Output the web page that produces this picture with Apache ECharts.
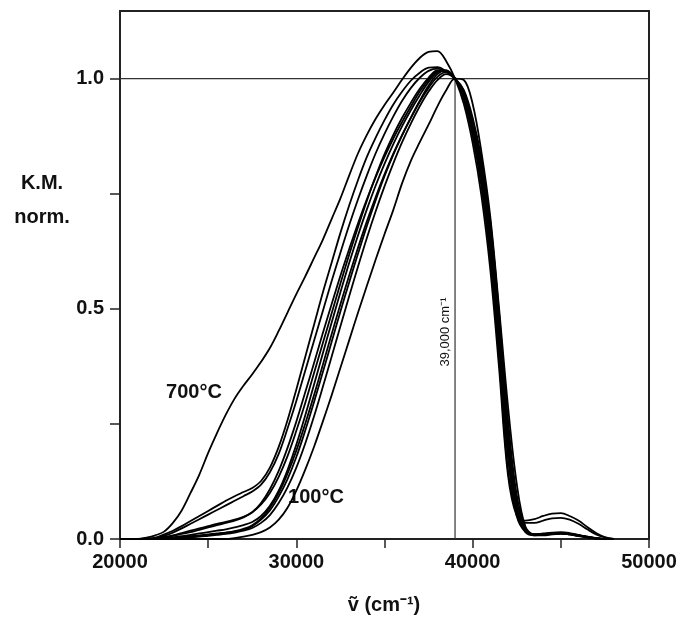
<!DOCTYPE html>
<html>
<head>
<meta charset="utf-8">
<script src="https://cdn.jsdelivr.net/npm/echarts@6/dist/echarts.min.js"></script>
<style>
html,body{margin:0;padding:0;background:#fff;}
#chart{width:683px;height:620px;}
</style>
</head>
<body>
<div id="chart"></div>
<script>
// wavenumber grid (cm^-1)
var wavenumbers = [20000,20500,21000,21500,22000,22500,23000,23500,24000,24500,25000,25500,26000,26500,27000,27500,28000,28500,29000,29500,30000,30500,31000,31500,32000,32500,33000,33500,34000,34500,35000,35500,36000,36500,37000,37500,38000,38500,39000,39500,40000,40500,41000,41500,42000,42500,43000,43500,44000,44500,45000,45500,46000,46500,47000,47500,48000];

var spec700 = [0,0,0,0.003,0.008,0.016,0.035,0.062,0.1,0.14,0.187,0.23,0.27,0.305,0.333,0.358,0.385,0.415,0.452,0.492,0.532,0.57,0.61,0.65,0.695,0.74,0.79,0.838,0.878,0.913,0.943,0.97,0.998,1.024,1.045,1.058,1.06,1.038,1.0,0.945,0.86,0.745,0.585,0.37,0.14,0.05,0.04,0.043,0.05,0.055,0.056,0.05,0.04,0.026,0.013,0.004,0];
var specB1 = [0,0,0,0.001,0.003,0.01,0.018,0.028,0.039,0.05,0.061,0.072,0.083,0.093,0.102,0.111,0.126,0.155,0.2,0.258,0.325,0.395,0.465,0.535,0.6,0.665,0.725,0.78,0.83,0.872,0.91,0.944,0.972,0.996,1.013,1.024,1.025,1.016,1.0,0.955,0.875,0.765,0.61,0.39,0.15,0.055,0.035,0.035,0.04,0.045,0.046,0.042,0.033,0.021,0.01,0.003,0];
var specB2 = [0,0,0,0,0.002,0.007,0.014,0.023,0.033,0.043,0.053,0.063,0.073,0.083,0.093,0.103,0.118,0.145,0.185,0.24,0.3,0.365,0.43,0.495,0.56,0.622,0.682,0.738,0.79,0.838,0.88,0.918,0.952,0.98,1.002,1.017,1.022,1.015,1.0,0.96,0.885,0.78,0.63,0.42,0.18,0.05,0.015,0.01,0.012,0.014,0.015,0.013,0.009,0.005,0.002,0,0];
var specB3 = [0,0,0,0,0.001,0.004,0.008,0.013,0.018,0.023,0.028,0.033,0.037,0.042,0.048,0.058,0.075,0.1,0.135,0.18,0.235,0.295,0.36,0.425,0.49,0.555,0.618,0.678,0.735,0.788,0.836,0.878,0.915,0.948,0.978,1.002,1.018,1.016,1.0,0.965,0.895,0.795,0.65,0.44,0.2,0.06,0.018,0.009,0.01,0.012,0.013,0.011,0.008,0.004,0.002,0,0];
var specB4 = [0,0,0,0,0.001,0.003,0.007,0.011,0.015,0.02,0.025,0.03,0.035,0.04,0.047,0.058,0.078,0.108,0.148,0.198,0.255,0.318,0.382,0.447,0.51,0.572,0.63,0.686,0.738,0.786,0.83,0.87,0.906,0.94,0.972,0.998,1.016,1.017,1.0,0.962,0.89,0.79,0.645,0.43,0.19,0.055,0.015,0.008,0.009,0.011,0.012,0.01,0.007,0.004,0.001,0,0];
var specB5 = [0,0,0,0,0,0.001,0.002,0.004,0.006,0.008,0.01,0.012,0.014,0.017,0.022,0.03,0.045,0.068,0.1,0.142,0.192,0.25,0.312,0.378,0.445,0.51,0.573,0.633,0.69,0.743,0.792,0.837,0.878,0.916,0.952,0.985,1.01,1.018,1.0,0.968,0.9,0.805,0.665,0.46,0.22,0.07,0.02,0.01,0.01,0.012,0.013,0.011,0.008,0.005,0.002,0,0];
var specB6 = [0,0,0,0,0,0.001,0.002,0.003,0.005,0.007,0.009,0.011,0.013,0.016,0.02,0.028,0.042,0.062,0.092,0.13,0.178,0.235,0.297,0.362,0.428,0.494,0.558,0.62,0.68,0.736,0.788,0.835,0.877,0.915,0.95,0.98,1.004,1.014,1.0,0.972,0.91,0.82,0.685,0.48,0.245,0.085,0.022,0.01,0.01,0.012,0.013,0.011,0.008,0.004,0.001,0,0];
var specB7 = [0,0,0,0,0,0.001,0.002,0.003,0.004,0.005,0.007,0.009,0.011,0.014,0.018,0.024,0.035,0.052,0.078,0.112,0.155,0.207,0.266,0.33,0.396,0.462,0.528,0.592,0.654,0.712,0.766,0.816,0.862,0.903,0.94,0.972,0.997,1.01,1.0,0.975,0.915,0.825,0.69,0.49,0.26,0.095,0.025,0.01,0.01,0.011,0.012,0.01,0.007,0.004,0.001,0,0];
var specB8 = [0,0,0,0,0,0.002,0.004,0.006,0.009,0.012,0.015,0.018,0.021,0.025,0.03,0.037,0.05,0.072,0.105,0.15,0.205,0.268,0.335,0.403,0.47,0.536,0.6,0.66,0.716,0.768,0.815,0.858,0.897,0.932,0.964,0.993,1.014,1.018,1.0,0.963,0.895,0.8,0.66,0.455,0.21,0.065,0.018,0.009,0.01,0.012,0.013,0.011,0.008,0.004,0.002,0,0];
var spec100 = [0,0,0,0,0,0,0,0,0,0,0,0,0,0.002,0.005,0.009,0.015,0.025,0.042,0.068,0.105,0.15,0.2,0.255,0.312,0.372,0.432,0.492,0.55,0.607,0.662,0.715,0.773,0.822,0.862,0.9,0.94,0.975,1.0,0.997,0.945,0.84,0.7,0.5,0.29,0.12,0.025,0.008,0.008,0.01,0.012,0.01,0.006,0.003,0.001,0,0];

var spectra = [spec700, specB1, specB2, specB3, specB4, specB5, specB6, specB7, specB8, spec100];

var xTicks = [20000,25000,30000,35000,40000,45000,50000];
var xLabels = [20000,30000,40000,50000];
var yTicks = [0,0.25,0.5,0.75,1.0];
var yLabels = [0,0.5,1.0];
var normLevel = 1.0;
var normWavenumber = 39000;
var xMin = 20000, xMax = 50000, yMin = 0, yMax = 1.147;

var FONT = '"Liberation Sans", Arial, sans-serif';

var series = spectra.map(function (s, k) {
  return {
    type: 'line',
    name: 's' + k,
    data: wavenumbers.map(function (w, i) { return [w, s[i]]; }),
    showSymbol: false,
    smooth: 0.35,
    silent: true,
    lineStyle: { color: '#000', width: 1.8 },
    z: 3
  };
});
series.push({
  type: 'line', data: [[xMin, normLevel], [xMax, normLevel]], showSymbol: false, silent: true,
  lineStyle: { color: '#333', width: 1.2 }, z: 2
});
series.push({
  type: 'line', data: [[normWavenumber, yMin], [normWavenumber, normLevel]], showSymbol: false, silent: true,
  lineStyle: { color: '#333', width: 1.2 }, z: 2
});

var chart = echarts.init(document.getElementById('chart'), null, { renderer: 'canvas' });
chart.setOption({
  animation: false,
  backgroundColor: '#fff',
  grid: { left: 120, right: 34, top: 11, bottom: 81, containLabel: false },
  xAxis: [{
    type: 'value', min: xMin, max: xMax,
    axisLine: { show: true, lineStyle: { color: '#222', width: 2 } },
    axisTick: { show: true, inside: false, length: 9, customValues: xTicks, lineStyle: { color: '#222', width: 1.5 } },
    axisLabel: { customValues: xLabels, margin: 13, color: '#111', fontFamily: FONT, fontWeight: 'bold', fontSize: 20,
      formatter: function (v) { return String(v); } },
    splitLine: { show: false }
  }, {
    type: 'value', position: 'top', min: xMin, max: xMax,
    axisLine: { show: true, onZero: false, lineStyle: { color: '#222', width: 2 } },
    axisTick: { show: false }, axisLabel: { show: false }, splitLine: { show: false }
  }],
  yAxis: [{
    type: 'value', min: yMin, max: yMax,
    axisLine: { show: true, lineStyle: { color: '#222', width: 2 } },
    axisTick: { show: true, inside: false, length: 10, customValues: yTicks, lineStyle: { color: '#222', width: 1.5 } },
    axisLabel: { customValues: yLabels, margin: 16, color: '#111', fontFamily: FONT, fontWeight: 'bold', fontSize: 20,
      formatter: function (v) { return v.toFixed(1); } },
    splitLine: { show: false }
  }, {
    type: 'value', position: 'right', min: yMin, max: yMax,
    axisLine: { show: true, onZero: false, lineStyle: { color: '#222', width: 2 } },
    axisTick: { show: false }, axisLabel: { show: false }, splitLine: { show: false }
  }],
  series: series,
  graphic: [
    { type: 'text', x: 42, y: 183, style: { text: 'K.M.', fill: '#111', font: 'bold 20px ' + FONT, align: 'center', verticalAlign: 'middle' } },
    { type: 'text', x: 42, y: 217, style: { text: 'norm.', fill: '#111', font: 'bold 20px ' + FONT, align: 'center', verticalAlign: 'middle' } },
    { type: 'text', x: 194, y: 392, style: { text: '700°C', fill: '#111', font: 'bold 20px ' + FONT, align: 'center', verticalAlign: 'middle' } },
    { type: 'text', x: 316, y: 497, style: { text: '100°C', fill: '#111', font: 'bold 20px ' + FONT, align: 'center', verticalAlign: 'middle' } },
    { type: 'text', x: 445, y: 332, rotation: Math.PI / 2, style: { text: '39,000 cm⁻¹', fill: '#111', font: '13px ' + FONT, align: 'center', verticalAlign: 'middle' } },
    { type: 'text', x: 384, y: 605, style: { text: 'ṽ (cm⁻¹)', fill: '#111', font: 'bold 20px ' + FONT, align: 'center', verticalAlign: 'middle' } }
  ]
});
</script>
</body>
</html>
